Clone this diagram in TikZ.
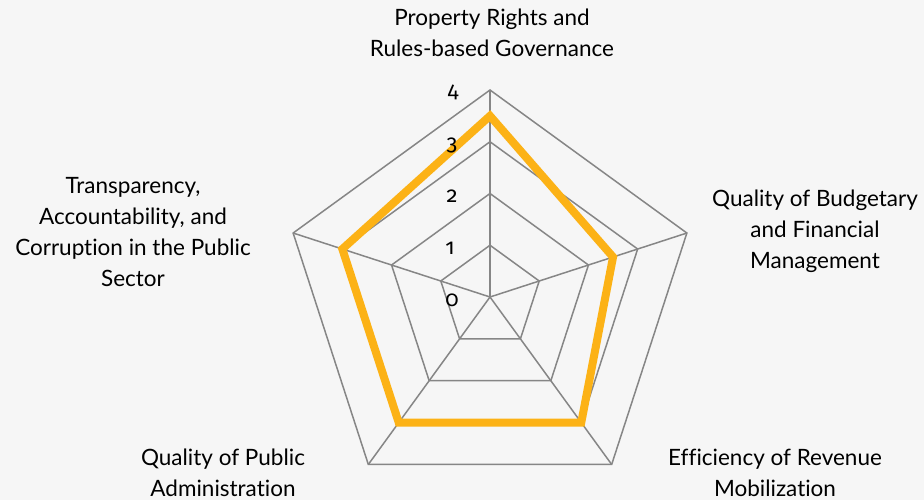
\documentclass[tikz,border=0pt]{standalone}
\usepackage{fontspec}
\setmainfont[Ligatures=NoCommon]{Lato}
\newfontfamily\numfont[Numbers=OldStyle]{Fira Sans}
\definecolor{bgc}{RGB}{246,246,246}
\definecolor{gridc}{RGB}{134,134,134}
\definecolor{datac}{RGB}{252,178,22}
\begin{document}
\begin{tikzpicture}[x=1pt,y=-1pt,
  gridline/.style={draw=gridc,line width=1.5pt},
  dataline/.style={draw=datac,line width=8pt,line join=miter},
  axlabel/.style={align=center,font=\fontsize{22.5}{31}\selectfont,text=black,inner sep=0pt},
  ticklabel/.style={anchor=base,font=\numfont\fontsize{22}{26}\selectfont,inner sep=0pt}]
\fill[bgc] (0,0) rectangle (924,500);
\useasboundingbox (0,0) rectangle (924,500);
\def\cx{490}\def\cy{297}\def\u{51.75}
\coordinate (c) at (\cx,\cy);
% grid vertices
\foreach \l in {1,2,3,4}{
  \foreach \k [evaluate=\k as \a using 90-72*\k] in {0,...,4}{
    \coordinate (g\l-\k) at ({\cx+\l*\u*cos(\a)},{\cy-\l*\u*sin(\a)});
  }
  \draw[gridline] (g\l-0) -- (g\l-1) -- (g\l-2) -- (g\l-3) -- (g\l-4) -- cycle;
}
\foreach \k in {0,...,4}{\draw[gridline] (c) -- (g4-\k);}
% data
\def\va{3.5}\def\vb{2.5}\def\vc{3.0}\def\vd{3.0}\def\ve{3.0}
\coordinate (d0) at ({\cx+\va*\u*cos(90)},{\cy-\va*\u*sin(90)});
\coordinate (d1) at ({\cx+\vb*\u*cos(18)},{\cy-\vb*\u*sin(18)});
\coordinate (d2) at ({\cx+\vc*\u*cos(-54)},{\cy-\vc*\u*sin(-54)});
\coordinate (d3) at ({\cx+\vd*\u*cos(-126)},{\cy-\vd*\u*sin(-126)});
\coordinate (d4) at ({\cx+\ve*\u*cos(-198)},{\cy-\ve*\u*sin(-198)});
\draw[dataline] (d0) -- (d1) -- (d2) -- (d3) -- (d4) -- cycle;
% tick labels
\node[ticklabel] (t4) at (453,98) {4};
\node[ticklabel] (t3) at (452,150) {3};
\node[ticklabel] (t2) at (452,202) {2};
\node[ticklabel] (t1) at (450,254) {1};
\node[ticklabel] (t0) at (452,306) {0};
% axis labels
\node[axlabel] (la) at (492,33) {Property Rights and\\Rules-based Governance};
\node[axlabel] (lb) at (815,231) {Quality of Budgetary\\and Financial\\Management};
\node[axlabel] (lc) at (775,473) {Efficiency of Revenue\\Mobilization};
\node[axlabel] (ld) at (223,473) {Quality of Public\\Administration};
\node[axlabel] (le) at (133,232) {Transparency,\\Accountability, and\\Corruption in the Public\\Sector};
\end{tikzpicture}
\end{document}
